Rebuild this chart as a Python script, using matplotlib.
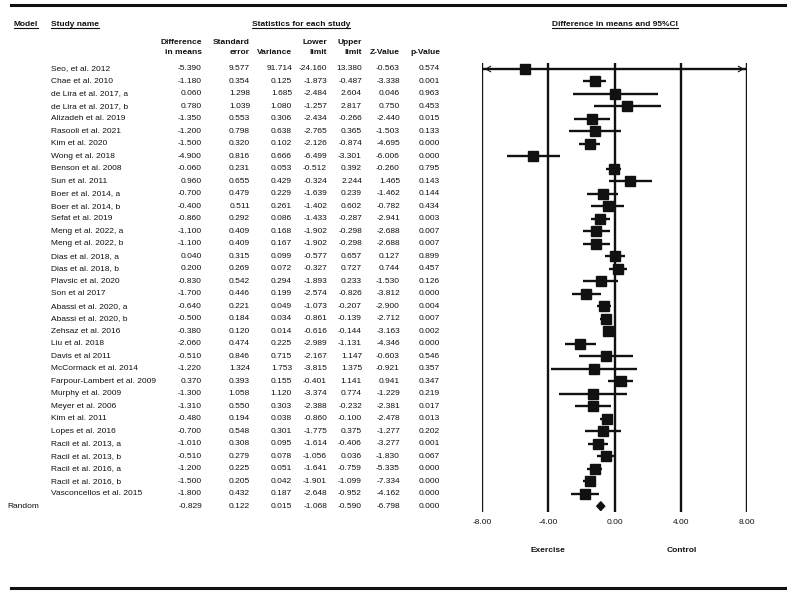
import matplotlib
matplotlib.use('Agg')
import matplotlib.pyplot as plt
from matplotlib.patches import Polygon

plt.rcParams['font.family'] = ['Liberation Sans', 'DejaVu Sans']

study_names = [
    'Seo, et al. 2012', 'Chae et al. 2010', 'de Lira et al. 2017, a',
    'de Lira et al. 2017, b', 'Alizadeh et al. 2019', 'Rasooli et al. 2021',
    'Kim et al. 2020', 'Wong et al. 2018', 'Benson et al. 2008',
    'Sun et al. 2011', 'Boer et al. 2014, a', 'Boer et al. 2014, b',
    'Sefat et al. 2019', 'Meng et al. 2022, a', 'Meng et al. 2022, b',
    'Dias et al. 2018, a', 'Dias et al. 2018, b', 'Plavsic et al. 2020',
    'Son et al 2017', 'Abassi et al. 2020, a', 'Abassi et al. 2020, b',
    'Zehsaz et al. 2016', 'Liu et al. 2018', 'Davis et al 2011',
    'McCormack et al. 2014', 'Farpour-Lambert et al. 2009',
    'Murphy et al. 2009', 'Meyer et al. 2006', 'Kim et al. 2011',
    'Lopes et al. 2016', 'Racil et al. 2013, a', 'Racil et al. 2013, b',
    'Racil et al. 2016, a', 'Racil et al. 2016, b',
    'Vasconcellos et al. 2015',
]
diff_means = [-5.390, -1.180, 0.060, 0.780, -1.350, -1.200, -1.500, -4.900,
              -0.060, 0.960, -0.700, -0.400, -0.860, -1.100, -1.100, 0.040,
              0.200, -0.830, -1.700, -0.640, -0.500, -0.380, -2.060, -0.510,
              -1.220, 0.370, -1.300, -1.310, -0.480, -0.700, -1.010, -0.510,
              -1.200, -1.500, -1.800]
std_error = [9.577, 0.354, 1.298, 1.039, 0.553, 0.798, 0.320, 0.816, 0.231,
             0.655, 0.479, 0.511, 0.292, 0.409, 0.409, 0.315, 0.269, 0.542,
             0.446, 0.221, 0.184, 0.120, 0.474, 0.846, 1.324, 0.393, 1.058,
             0.550, 0.194, 0.548, 0.308, 0.279, 0.225, 0.205, 0.432]
variance = [91.714, 0.125, 1.685, 1.080, 0.306, 0.638, 0.102, 0.666, 0.053,
            0.429, 0.229, 0.261, 0.086, 0.168, 0.167, 0.099, 0.072, 0.294,
            0.199, 0.049, 0.034, 0.014, 0.225, 0.715, 1.753, 0.155, 1.120,
            0.303, 0.038, 0.301, 0.095, 0.078, 0.051, 0.042, 0.187]
lower_limit = [-24.160, -1.873, -2.484, -1.257, -2.434, -2.765, -2.126,
               -6.499, -0.512, -0.324, -1.639, -1.402, -1.433, -1.902, -1.902,
               -0.577, -0.327, -1.893, -2.574, -1.073, -0.861, -0.616, -2.989,
               -2.167, -3.815, -0.401, -3.374, -2.388, -0.860, -1.775, -1.614,
               -1.056, -1.641, -1.901, -2.648]
upper_limit = [13.380, -0.487, 2.604, 2.817, -0.266, 0.365, -0.874, -3.301,
               0.392, 2.244, 0.239, 0.602, -0.287, -0.298, -0.298, 0.657,
               0.727, 0.233, -0.826, -0.207, -0.139, -0.144, -1.131, 1.147,
               1.375, 1.141, 0.774, -0.232, -0.100, 0.375, -0.406, 0.036,
               -0.759, -1.099, -0.952]
z_value = [-0.563, -3.338, 0.046, 0.750, -2.440, -1.503, -4.695, -6.006,
           -0.260, 1.465, -1.462, -0.782, -2.941, -2.688, -2.688, 0.127,
           0.744, -1.530, -3.812, -2.900, -2.712, -3.163, -4.346, -0.603,
           -0.921, 0.941, -1.229, -2.381, -2.478, -1.277, -3.277, -1.830,
           -5.335, -7.334, -4.162]
p_value = [0.574, 0.001, 0.963, 0.453, 0.015, 0.133, 0.000, 0.000, 0.795,
           0.143, 0.144, 0.434, 0.003, 0.007, 0.007, 0.899, 0.457, 0.126,
           0.000, 0.004, 0.007, 0.002, 0.000, 0.546, 0.357, 0.347, 0.219,
           0.017, 0.013, 0.202, 0.001, 0.067, 0.000, 0.000, 0.000]

random_label = 'Random'
random_stats = [-0.829, 0.122, 0.015, -1.068, -0.590, -6.798, 0.000]

header_top = ['Difference', 'Standard', '', 'Lower', 'Upper', '', '']
header_bottom = ['in means', 'error', 'Variance', 'limit', 'limit',
                 'Z-Value', 'p-Value']
axis_ticks = [-8, -4, 0, 4, 8]

W, H = 787, 594
ROW0 = 69.0
PITCH = 12.49
FS = 6
INK = '#111111'
col_right = [202, 250, 292, 327, 362, 400, 440]


def row_y(i):
    return ROW0 + PITCH * i


def underlined(ax, x, y, s, ha='left'):
    t = ax.text(x, y, s, ha=ha, va='center', fontsize=FS,
                fontweight='bold', color=INK)
    fig.canvas.draw()
    bb = t.get_window_extent(fig.canvas.get_renderer())
    bb = bb.transformed(ax.transData.inverted())
    x0, x1 = sorted([bb.x0, bb.x1])
    y_line = max(bb.y0, bb.y1) + 0.5
    ax.plot([x0, x1], [y_line, y_line], color=INK, lw=0.8)


fig = plt.figure(figsize=(W / 100, H / 100), dpi=100)
page = fig.add_axes([0, 0, 1, 1])
page.set_xlim(0, W)
page.set_ylim(H, 0)
page.axis('off')

# frame lines
page.plot([11, 785], [5, 5], color=INK, lw=2.2)
page.plot([11, 785], [588, 588], color=INK, lw=2.2)

# headers
underlined(page, 14, 24, 'Model')
underlined(page, 51, 24, 'Study name')
underlined(page, 301, 24, 'Statistics for each study', ha='center')
underlined(page, 615, 24, 'Difference in means and 95%CI', ha='center')
for x, top, bottom in zip(col_right, header_top, header_bottom):
    page.text(x, 42, top, ha='right', va='center', fontsize=FS,
              fontweight='bold', color=INK)
    page.text(x, 53, bottom, ha='right', va='center', fontsize=FS,
              fontweight='bold', color=INK)

# table rows
columns = [diff_means, std_error, variance, lower_limit, upper_limit,
           z_value, p_value]
for i, name in enumerate(study_names):
    y = row_y(i)
    page.text(51, y, name, ha='left', va='center', fontsize=FS, color=INK)
    for x, col in zip(col_right, columns):
        page.text(x, y, '%.3f' % col[i], ha='right', va='center',
                  fontsize=FS, color=INK)

n = len(study_names)
page.text(7, row_y(n), random_label, ha='left', va='center', fontsize=FS,
          color=INK)
for x, val in zip(col_right, random_stats):
    page.text(x, row_y(n), '%.3f' % val, ha='right', va='center',
              fontsize=FS, color=INK)

page.text(548, 550, 'Exercise', ha='center', va='center', fontsize=FS,
          fontweight='bold', color=INK)
page.text(682, 550, 'Control', ha='center', va='center', fontsize=FS,
          fontweight='bold', color=INK)

# forest plot
top_px = row_y(-0.5)
bot_px = row_y(n + 0.5)
ax = fig.add_axes([482 / W, 1 - bot_px / H, (747 - 482) / W,
                   (bot_px - top_px) / H])
ax.set_xlim(axis_ticks[0], axis_ticks[-1])
ax.set_ylim(n + 0.5, -0.5)
ax.patch.set_alpha(0)
for s in ax.spines.values():
    s.set_visible(False)
for t in axis_ticks:
    ax.axvline(t, color=INK, lw=1.7, zorder=1)

xmin, xmax = axis_ticks[0], axis_ticks[-1]
for i in range(n):
    lo = max(lower_limit[i], xmin)
    hi = min(upper_limit[i], xmax)
    ax.plot([lo, hi], [i, i], color=INK, lw=1.7, zorder=2,
            solid_capstyle='butt')
    if lower_limit[i] < xmin:
        ax.annotate('', xy=(xmin, i), xytext=(xmin + 0.6, i),
                    arrowprops=dict(arrowstyle='->,head_length=0.35,head_width=0.2',
                                    color=INK, lw=0.8))
    if upper_limit[i] > xmax:
        ax.annotate('', xy=(xmax, i), xytext=(xmax - 0.6, i),
                    arrowprops=dict(arrowstyle='->,head_length=0.35,head_width=0.2',
                                    color=INK, lw=0.8))
    ax.plot(diff_means[i], i, 's', color=INK, ms=7.2, zorder=3)

est, _, _, lo, hi = random_stats[:5]
diamond = Polygon([(lo, n), (est, n - 0.35), (hi, n), (est, n + 0.35)],
                  closed=True, color=INK, zorder=3)
ax.add_patch(diamond)

ax.set_yticks([])
ax.set_xticks(axis_ticks)
ax.set_xticklabels(['%.2f' % t for t in axis_ticks], fontsize=FS, color=INK)
ax.tick_params(axis='x', length=0, pad=5)

fig.savefig('out.png', dpi=100)
